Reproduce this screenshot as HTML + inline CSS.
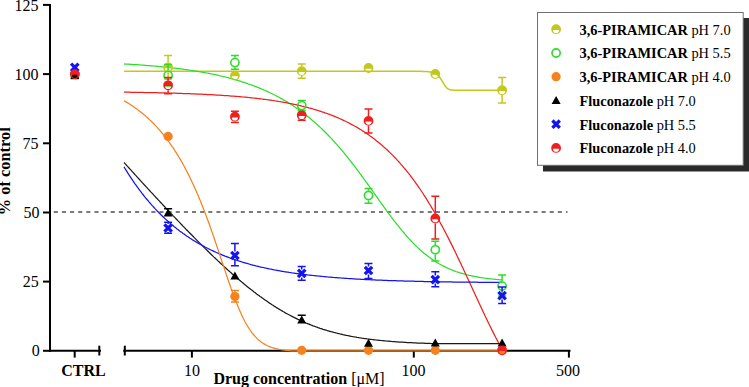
<!DOCTYPE html>
<html><head><meta charset="utf-8"><style>
html,body{margin:0;padding:0;background:#fff;}
body{width:749px;height:387px;overflow:hidden;}
svg{display:block;}
</style></head><body>
<svg width="749" height="387" viewBox="0 0 749 387">
<line x1="53.8" y1="212" x2="567.5" y2="212" stroke="#7a7a7a" stroke-width="2" stroke-dasharray="4.05 4.08"/>
<g stroke="#000" stroke-width="2" fill="none">
<line x1="50" y1="4" x2="50" y2="351.8"/>
<line x1="43" y1="350.8" x2="50" y2="350.8"/>
<line x1="43" y1="281.6" x2="50" y2="281.6"/>
<line x1="43" y1="212.5" x2="50" y2="212.5"/>
<line x1="43" y1="143.3" x2="50" y2="143.3"/>
<line x1="43" y1="74.1" x2="50" y2="74.1"/>
<line x1="43" y1="4.9" x2="50" y2="4.9"/>
<line x1="49" y1="350.8" x2="101" y2="350.8"/>
<line x1="74.7" y1="350.8" x2="74.7" y2="357.6"/>
<line x1="99.3" y1="345.7" x2="99.3" y2="355.5"/>
<line x1="123.2" y1="350.8" x2="570.5" y2="350.8"/>
<line x1="124.8" y1="345.7" x2="124.8" y2="355.5"/>
<line x1="191.9" y1="350.8" x2="191.9" y2="357.6"/>
<line x1="413.8" y1="350.8" x2="413.8" y2="357.6"/>
<line x1="568.9" y1="350.8" x2="568.9" y2="357.6"/>
</g>
<path d="M124.0,71.3 L125.0,71.3 L126.0,71.3 L127.0,71.3 L128.0,71.3 L129.0,71.3 L130.0,71.3 L131.0,71.3 L132.0,71.3 L133.0,71.3 L134.0,71.3 L135.0,71.3 L136.0,71.3 L137.0,71.3 L138.0,71.3 L139.0,71.3 L140.0,71.3 L141.0,71.3 L142.0,71.3 L143.0,71.3 L144.0,71.3 L145.0,71.3 L146.0,71.3 L147.0,71.3 L148.0,71.3 L149.0,71.3 L150.0,71.3 L151.0,71.3 L152.0,71.3 L153.0,71.3 L154.0,71.3 L155.0,71.3 L156.0,71.3 L157.0,71.3 L158.0,71.3 L159.0,71.3 L160.0,71.3 L161.0,71.3 L162.0,71.3 L163.0,71.3 L164.0,71.3 L165.0,71.3 L166.0,71.3 L167.0,71.3 L168.0,71.3 L169.0,71.3 L170.0,71.3 L171.0,71.3 L172.0,71.3 L173.0,71.3 L174.0,71.3 L175.0,71.3 L176.0,71.3 L177.0,71.3 L178.0,71.3 L179.0,71.3 L180.0,71.3 L181.0,71.3 L182.0,71.3 L183.0,71.3 L184.0,71.3 L185.0,71.3 L186.0,71.3 L187.0,71.3 L188.0,71.3 L189.0,71.3 L190.0,71.3 L191.0,71.3 L192.0,71.3 L193.0,71.3 L194.0,71.3 L195.0,71.3 L196.0,71.3 L197.0,71.3 L198.0,71.3 L199.0,71.3 L200.0,71.3 L201.0,71.3 L202.0,71.3 L203.0,71.3 L204.0,71.3 L205.0,71.3 L206.0,71.3 L207.0,71.3 L208.0,71.3 L209.0,71.3 L210.0,71.3 L211.0,71.3 L212.0,71.3 L213.0,71.3 L214.0,71.3 L215.0,71.3 L216.0,71.3 L217.0,71.3 L218.0,71.3 L219.0,71.3 L220.0,71.3 L221.0,71.3 L222.0,71.3 L223.0,71.3 L224.0,71.3 L225.0,71.3 L226.0,71.3 L227.0,71.3 L228.0,71.3 L229.0,71.3 L230.0,71.3 L231.0,71.3 L232.0,71.3 L233.0,71.3 L234.0,71.3 L235.0,71.3 L236.0,71.3 L237.0,71.3 L238.0,71.3 L239.0,71.3 L240.0,71.3 L241.0,71.3 L242.0,71.3 L243.0,71.3 L244.0,71.3 L245.0,71.3 L246.0,71.3 L247.0,71.3 L248.0,71.3 L249.0,71.3 L250.0,71.3 L251.0,71.3 L252.0,71.3 L253.0,71.3 L254.0,71.3 L255.0,71.3 L256.0,71.3 L257.0,71.3 L258.0,71.3 L259.0,71.3 L260.0,71.3 L261.0,71.3 L262.0,71.3 L263.0,71.3 L264.0,71.3 L265.0,71.3 L266.0,71.3 L267.0,71.3 L268.0,71.3 L269.0,71.3 L270.0,71.3 L271.0,71.3 L272.0,71.3 L273.0,71.3 L274.0,71.3 L275.0,71.3 L276.0,71.3 L277.0,71.3 L278.0,71.3 L279.0,71.3 L280.0,71.3 L281.0,71.3 L282.0,71.3 L283.0,71.3 L284.0,71.3 L285.0,71.3 L286.0,71.3 L287.0,71.3 L288.0,71.3 L289.0,71.3 L290.0,71.3 L291.0,71.3 L292.0,71.3 L293.0,71.3 L294.0,71.3 L295.0,71.3 L296.0,71.3 L297.0,71.3 L298.0,71.3 L299.0,71.3 L300.0,71.3 L301.0,71.3 L302.0,71.3 L303.0,71.3 L304.0,71.3 L305.0,71.3 L306.0,71.3 L307.0,71.3 L308.0,71.3 L309.0,71.3 L310.0,71.3 L311.0,71.3 L312.0,71.3 L313.0,71.3 L314.0,71.3 L315.0,71.3 L316.0,71.3 L317.0,71.3 L318.0,71.3 L319.0,71.3 L320.0,71.3 L321.0,71.3 L322.0,71.3 L323.0,71.3 L324.0,71.3 L325.0,71.3 L326.0,71.3 L327.0,71.3 L328.0,71.3 L329.0,71.3 L330.0,71.3 L331.0,71.3 L332.0,71.3 L333.0,71.3 L334.0,71.3 L335.0,71.3 L336.0,71.3 L337.0,71.3 L338.0,71.3 L339.0,71.3 L340.0,71.3 L341.0,71.3 L342.0,71.3 L343.0,71.3 L344.0,71.3 L345.0,71.3 L346.0,71.3 L347.0,71.3 L348.0,71.3 L349.0,71.3 L350.0,71.3 L351.0,71.3 L352.0,71.3 L353.0,71.3 L354.0,71.3 L355.0,71.3 L356.0,71.3 L357.0,71.3 L358.0,71.3 L359.0,71.3 L360.0,71.3 L361.0,71.3 L362.0,71.3 L363.0,71.3 L364.0,71.3 L365.0,71.3 L366.0,71.3 L367.0,71.3 L368.0,71.3 L369.0,71.3 L370.0,71.3 L371.0,71.3 L372.0,71.3 L373.0,71.3 L374.0,71.3 L375.0,71.3 L376.0,71.3 L377.0,71.3 L378.0,71.3 L379.0,71.3 L380.0,71.3 L381.0,71.3 L382.0,71.3 L383.0,71.3 L384.0,71.3 L385.0,71.3 L386.0,71.3 L387.0,71.3 L388.0,71.3 L389.0,71.3 L390.0,71.3 L391.0,71.3 L392.0,71.3 L393.0,71.3 L394.0,71.3 L395.0,71.3 L396.0,71.3 L397.0,71.3 L398.0,71.3 L399.0,71.3 L400.0,71.3 L401.0,71.3 L402.0,71.3 L403.0,71.3 L404.0,71.3 L405.0,71.3 L406.0,71.3 L407.0,71.3 L408.0,71.3 L409.0,71.3 L410.0,71.3 L411.0,71.3 L412.0,71.3 L413.0,71.3 L414.0,71.3 L415.0,71.3 L416.0,71.3 L417.0,71.3 L418.0,71.3 L419.0,71.3 L420.0,71.3 L421.0,71.3 L422.0,71.4 L423.0,71.4 L424.0,71.4 L425.0,71.5 L426.0,71.5 L427.0,71.6 L428.0,71.7 L429.0,71.8 L430.0,71.9 L431.0,72.1 L432.0,72.3 L433.0,72.6 L434.0,73.0 L435.0,73.4 L436.0,74.0 L437.0,74.7 L438.0,75.5 L439.0,76.5 L440.0,77.8 L441.0,79.2 L442.0,80.8 L443.0,82.5 L444.0,84.2 L445.0,85.8 L446.0,87.1 L447.0,88.1 L448.0,88.8 L449.0,89.3 L450.0,89.7 L451.0,89.9 L452.0,90.1 L453.0,90.1 L454.0,90.2 L455.0,90.2 L456.0,90.3 L457.0,90.3 L458.0,90.3 L459.0,90.3 L460.0,90.3 L461.0,90.3 L462.0,90.3 L463.0,90.3 L464.0,90.3 L465.0,90.3 L466.0,90.3 L467.0,90.3 L468.0,90.3 L469.0,90.3 L470.0,90.3 L471.0,90.3 L472.0,90.3 L473.0,90.3 L474.0,90.3 L475.0,90.3 L476.0,90.3 L477.0,90.3 L478.0,90.3 L479.0,90.3 L480.0,90.3 L481.0,90.3 L482.0,90.3 L483.0,90.3 L484.0,90.3 L485.0,90.3 L486.0,90.3 L487.0,90.3 L488.0,90.3 L489.0,90.3 L490.0,90.3 L491.0,90.3 L492.0,90.3 L493.0,90.3 L494.0,90.3 L495.0,90.3 L496.0,90.3 L497.0,90.3 L498.0,90.3 L499.0,90.3 L500.0,90.3 L501.0,90.3 L502.0,90.3" fill="none" stroke="#c3c81c" stroke-width="1.5"/>
<path d="M124.0,63.9 L125.0,64.0 L126.0,64.0 L127.0,64.1 L128.0,64.2 L129.0,64.2 L130.0,64.3 L131.0,64.3 L132.0,64.4 L133.0,64.5 L134.0,64.5 L135.0,64.6 L136.0,64.7 L137.0,64.7 L138.0,64.8 L139.0,64.9 L140.0,64.9 L141.0,65.0 L142.0,65.1 L143.0,65.1 L144.0,65.2 L145.0,65.3 L146.0,65.4 L147.0,65.5 L148.0,65.5 L149.0,65.6 L150.0,65.7 L151.0,65.8 L152.0,65.9 L153.0,65.9 L154.0,66.0 L155.0,66.1 L156.0,66.2 L157.0,66.3 L158.0,66.4 L159.0,66.5 L160.0,66.6 L161.0,66.7 L162.0,66.8 L163.0,66.9 L164.0,67.0 L165.0,67.1 L166.0,67.2 L167.0,67.3 L168.0,67.4 L169.0,67.5 L170.0,67.6 L171.0,67.7 L172.0,67.8 L173.0,68.0 L174.0,68.1 L175.0,68.2 L176.0,68.3 L177.0,68.4 L178.0,68.6 L179.0,68.7 L180.0,68.8 L181.0,68.9 L182.0,69.1 L183.0,69.2 L184.0,69.3 L185.0,69.5 L186.0,69.6 L187.0,69.7 L188.0,69.9 L189.0,70.0 L190.0,70.2 L191.0,70.3 L192.0,70.5 L193.0,70.6 L194.0,70.8 L195.0,71.0 L196.0,71.1 L197.0,71.3 L198.0,71.4 L199.0,71.6 L200.0,71.8 L201.0,72.0 L202.0,72.1 L203.0,72.3 L204.0,72.5 L205.0,72.7 L206.0,72.9 L207.0,73.0 L208.0,73.2 L209.0,73.4 L210.0,73.6 L211.0,73.8 L212.0,74.0 L213.0,74.2 L214.0,74.5 L215.0,74.7 L216.0,74.9 L217.0,75.1 L218.0,75.3 L219.0,75.5 L220.0,75.8 L221.0,76.0 L222.0,76.2 L223.0,76.5 L224.0,76.7 L225.0,77.0 L226.0,77.2 L227.0,77.5 L228.0,77.7 L229.0,78.0 L230.0,78.3 L231.0,78.5 L232.0,78.8 L233.0,79.1 L234.0,79.4 L235.0,79.6 L236.0,79.9 L237.0,80.2 L238.0,80.5 L239.0,80.8 L240.0,81.1 L241.0,81.4 L242.0,81.8 L243.0,82.1 L244.0,82.4 L245.0,82.7 L246.0,83.1 L247.0,83.4 L248.0,83.8 L249.0,84.1 L250.0,84.5 L251.0,84.8 L252.0,85.2 L253.0,85.6 L254.0,85.9 L255.0,86.3 L256.0,86.7 L257.0,87.1 L258.0,87.5 L259.0,87.9 L260.0,88.3 L261.0,88.7 L262.0,89.2 L263.0,89.6 L264.0,90.0 L265.0,90.5 L266.0,90.9 L267.0,91.4 L268.0,91.8 L269.0,92.3 L270.0,92.8 L271.0,93.2 L272.0,93.7 L273.0,94.2 L274.0,94.7 L275.0,95.2 L276.0,95.7 L277.0,96.3 L278.0,96.8 L279.0,97.3 L280.0,97.9 L281.0,98.4 L282.0,99.0 L283.0,99.6 L284.0,100.1 L285.0,100.7 L286.0,101.3 L287.0,101.9 L288.0,102.5 L289.0,103.2 L290.0,103.8 L291.0,104.4 L292.0,105.1 L293.0,105.7 L294.0,106.4 L295.0,107.1 L296.0,107.7 L297.0,108.4 L298.0,109.1 L299.0,109.9 L300.0,110.6 L301.0,111.3 L302.0,112.0 L303.0,112.8 L304.0,113.5 L305.0,114.3 L306.0,115.1 L307.0,115.9 L308.0,116.7 L309.0,117.5 L310.0,118.3 L311.0,119.2 L312.0,120.0 L313.0,120.9 L314.0,121.7 L315.0,122.6 L316.0,123.5 L317.0,124.4 L318.0,125.3 L319.0,126.2 L320.0,127.1 L321.0,128.1 L322.0,129.0 L323.0,130.0 L324.0,131.0 L325.0,132.0 L326.0,133.0 L327.0,134.0 L328.0,135.0 L329.0,136.0 L330.0,137.1 L331.0,138.1 L332.0,139.2 L333.0,140.3 L334.0,141.4 L335.0,142.5 L336.0,143.6 L337.0,144.7 L338.0,145.9 L339.0,147.0 L340.0,148.2 L341.0,149.4 L342.0,150.5 L343.0,151.7 L344.0,152.9 L345.0,154.2 L346.0,155.4 L347.0,156.6 L348.0,157.9 L349.0,159.1 L350.0,160.4 L351.0,161.7 L352.0,163.0 L353.0,164.3 L354.0,165.6 L355.0,166.9 L356.0,168.2 L357.0,169.5 L358.0,170.9 L359.0,172.2 L360.0,173.6 L361.0,174.9 L362.0,176.3 L363.0,177.7 L364.0,179.0 L365.0,180.4 L366.0,181.8 L367.0,183.2 L368.0,184.6 L369.0,186.0 L370.0,187.4 L371.0,188.8 L372.0,190.2 L373.0,191.6 L374.0,193.0 L375.0,194.4 L376.0,195.8 L377.0,197.2 L378.0,198.7 L379.0,200.1 L380.0,201.5 L381.0,202.9 L382.0,204.3 L383.0,205.7 L384.0,207.0 L385.0,208.4 L386.0,209.8 L387.0,211.2 L388.0,212.5 L389.0,213.9 L390.0,215.2 L391.0,216.6 L392.0,217.9 L393.0,219.2 L394.0,220.6 L395.0,221.9 L396.0,223.1 L397.0,224.4 L398.0,225.7 L399.0,226.9 L400.0,228.2 L401.0,229.4 L402.0,230.6 L403.0,231.8 L404.0,233.0 L405.0,234.2 L406.0,235.3 L407.0,236.5 L408.0,237.6 L409.0,238.7 L410.0,239.8 L411.0,240.8 L412.0,241.9 L413.0,242.9 L414.0,244.0 L415.0,245.0 L416.0,245.9 L417.0,246.9 L418.0,247.9 L419.0,248.8 L420.0,249.7 L421.0,250.6 L422.0,251.5 L423.0,252.3 L424.0,253.2 L425.0,254.0 L426.0,254.8 L427.0,255.6 L428.0,256.3 L429.0,257.1 L430.0,257.8 L431.0,258.5 L432.0,259.2 L433.0,259.9 L434.0,260.6 L435.0,261.2 L436.0,261.9 L437.0,262.5 L438.0,263.1 L439.0,263.7 L440.0,264.2 L441.0,264.8 L442.0,265.3 L443.0,265.9 L444.0,266.4 L445.0,266.9 L446.0,267.4 L447.0,267.8 L448.0,268.3 L449.0,268.7 L450.0,269.2 L451.0,269.6 L452.0,270.0 L453.0,270.4 L454.0,270.8 L455.0,271.1 L456.0,271.5 L457.0,271.8 L458.0,272.2 L459.0,272.5 L460.0,272.8 L461.0,273.1 L462.0,273.4 L463.0,273.7 L464.0,274.0 L465.0,274.3 L466.0,274.5 L467.0,274.8 L468.0,275.0 L469.0,275.3 L470.0,275.5 L471.0,275.7 L472.0,275.9 L473.0,276.1 L474.0,276.3 L475.0,276.5 L476.0,276.7 L477.0,276.9 L478.0,277.1 L479.0,277.3 L480.0,277.4 L481.0,277.6 L482.0,277.7 L483.0,277.9 L484.0,278.0 L485.0,278.2 L486.0,278.3 L487.0,278.4 L488.0,278.6 L489.0,278.7 L490.0,278.8 L491.0,278.9 L492.0,279.0 L493.0,279.1 L494.0,279.2 L495.0,279.3 L496.0,279.4 L497.0,279.5 L498.0,279.6 L499.0,279.7 L500.0,279.8 L501.0,279.8 L502.0,279.9" fill="none" stroke="#2ade2a" stroke-width="1.25"/>
<path d="M124.0,92.2 L125.0,92.2 L126.0,92.2 L127.0,92.2 L128.0,92.2 L129.0,92.2 L130.0,92.2 L131.0,92.3 L132.0,92.3 L133.0,92.3 L134.0,92.3 L135.0,92.3 L136.0,92.3 L137.0,92.3 L138.0,92.4 L139.0,92.4 L140.0,92.4 L141.0,92.4 L142.0,92.4 L143.0,92.4 L144.0,92.5 L145.0,92.5 L146.0,92.5 L147.0,92.5 L148.0,92.5 L149.0,92.6 L150.0,92.6 L151.0,92.6 L152.0,92.6 L153.0,92.6 L154.0,92.7 L155.0,92.7 L156.0,92.7 L157.0,92.7 L158.0,92.8 L159.0,92.8 L160.0,92.8 L161.0,92.8 L162.0,92.8 L163.0,92.9 L164.0,92.9 L165.0,92.9 L166.0,92.9 L167.0,93.0 L168.0,93.0 L169.0,93.0 L170.0,93.1 L171.0,93.1 L172.0,93.1 L173.0,93.1 L174.0,93.2 L175.0,93.2 L176.0,93.2 L177.0,93.3 L178.0,93.3 L179.0,93.3 L180.0,93.4 L181.0,93.4 L182.0,93.4 L183.0,93.5 L184.0,93.5 L185.0,93.5 L186.0,93.6 L187.0,93.6 L188.0,93.6 L189.0,93.7 L190.0,93.7 L191.0,93.8 L192.0,93.8 L193.0,93.8 L194.0,93.9 L195.0,93.9 L196.0,94.0 L197.0,94.0 L198.0,94.0 L199.0,94.1 L200.0,94.1 L201.0,94.2 L202.0,94.2 L203.0,94.3 L204.0,94.3 L205.0,94.4 L206.0,94.4 L207.0,94.5 L208.0,94.5 L209.0,94.6 L210.0,94.6 L211.0,94.7 L212.0,94.7 L213.0,94.8 L214.0,94.8 L215.0,94.9 L216.0,95.0 L217.0,95.0 L218.0,95.1 L219.0,95.1 L220.0,95.2 L221.0,95.3 L222.0,95.3 L223.0,95.4 L224.0,95.5 L225.0,95.5 L226.0,95.6 L227.0,95.7 L228.0,95.7 L229.0,95.8 L230.0,95.9 L231.0,96.0 L232.0,96.0 L233.0,96.1 L234.0,96.2 L235.0,96.3 L236.0,96.4 L237.0,96.4 L238.0,96.5 L239.0,96.6 L240.0,96.7 L241.0,96.8 L242.0,96.9 L243.0,97.0 L244.0,97.1 L245.0,97.2 L246.0,97.2 L247.0,97.3 L248.0,97.4 L249.0,97.5 L250.0,97.6 L251.0,97.8 L252.0,97.9 L253.0,98.0 L254.0,98.1 L255.0,98.2 L256.0,98.3 L257.0,98.4 L258.0,98.5 L259.0,98.6 L260.0,98.8 L261.0,98.9 L262.0,99.0 L263.0,99.1 L264.0,99.3 L265.0,99.4 L266.0,99.5 L267.0,99.7 L268.0,99.8 L269.0,99.9 L270.0,100.1 L271.0,100.2 L272.0,100.4 L273.0,100.5 L274.0,100.7 L275.0,100.8 L276.0,101.0 L277.0,101.1 L278.0,101.3 L279.0,101.5 L280.0,101.6 L281.0,101.8 L282.0,102.0 L283.0,102.1 L284.0,102.3 L285.0,102.5 L286.0,102.7 L287.0,102.9 L288.0,103.1 L289.0,103.3 L290.0,103.5 L291.0,103.7 L292.0,103.9 L293.0,104.1 L294.0,104.3 L295.0,104.5 L296.0,104.7 L297.0,104.9 L298.0,105.1 L299.0,105.4 L300.0,105.6 L301.0,105.8 L302.0,106.1 L303.0,106.3 L304.0,106.6 L305.0,106.8 L306.0,107.1 L307.0,107.3 L308.0,107.6 L309.0,107.9 L310.0,108.1 L311.0,108.4 L312.0,108.7 L313.0,109.0 L314.0,109.3 L315.0,109.6 L316.0,109.9 L317.0,110.2 L318.0,110.5 L319.0,110.8 L320.0,111.1 L321.0,111.4 L322.0,111.8 L323.0,112.1 L324.0,112.4 L325.0,112.8 L326.0,113.1 L327.0,113.5 L328.0,113.9 L329.0,114.2 L330.0,114.6 L331.0,115.0 L332.0,115.4 L333.0,115.8 L334.0,116.2 L335.0,116.6 L336.0,117.0 L337.0,117.4 L338.0,117.8 L339.0,118.3 L340.0,118.7 L341.0,119.2 L342.0,119.6 L343.0,120.1 L344.0,120.6 L345.0,121.0 L346.0,121.5 L347.0,122.0 L348.0,122.5 L349.0,123.0 L350.0,123.6 L351.0,124.1 L352.0,124.6 L353.0,125.2 L354.0,125.7 L355.0,126.3 L356.0,126.8 L357.0,127.4 L358.0,128.0 L359.0,128.6 L360.0,129.2 L361.0,129.8 L362.0,130.5 L363.0,131.1 L364.0,131.7 L365.0,132.4 L366.0,133.1 L367.0,133.8 L368.0,134.4 L369.0,135.1 L370.0,135.9 L371.0,136.6 L372.0,137.3 L373.0,138.1 L374.0,138.8 L375.0,139.6 L376.0,140.4 L377.0,141.2 L378.0,142.0 L379.0,142.8 L380.0,143.6 L381.0,144.5 L382.0,145.3 L383.0,146.2 L384.0,147.1 L385.0,148.0 L386.0,148.9 L387.0,149.8 L388.0,150.7 L389.0,151.7 L390.0,152.6 L391.0,153.6 L392.0,154.6 L393.0,155.6 L394.0,156.7 L395.0,157.7 L396.0,158.7 L397.0,159.8 L398.0,160.9 L399.0,162.0 L400.0,163.1 L401.0,164.3 L402.0,165.4 L403.0,166.6 L404.0,167.8 L405.0,169.0 L406.0,170.2 L407.0,171.4 L408.0,172.7 L409.0,173.9 L410.0,175.2 L411.0,176.5 L412.0,177.8 L413.0,179.2 L414.0,180.5 L415.0,181.9 L416.0,183.3 L417.0,184.7 L418.0,186.1 L419.0,187.6 L420.0,189.0 L421.0,190.5 L422.0,192.0 L423.0,193.5 L424.0,195.1 L425.0,196.6 L426.0,198.2 L427.0,199.8 L428.0,201.4 L429.0,203.1 L430.0,204.7 L431.0,206.4 L432.0,208.1 L433.0,209.8 L434.0,211.5 L435.0,213.2 L436.0,215.0 L437.0,216.8 L438.0,218.6 L439.0,220.4 L440.0,222.2 L441.0,224.1 L442.0,225.9 L443.0,227.8 L444.0,229.7 L445.0,231.6 L446.0,233.5 L447.0,235.5 L448.0,237.4 L449.0,239.4 L450.0,241.4 L451.0,243.4 L452.0,245.4 L453.0,247.4 L454.0,249.5 L455.0,251.5 L456.0,253.6 L457.0,255.7 L458.0,257.8 L459.0,259.9 L460.0,262.0 L461.0,264.1 L462.0,266.2 L463.0,268.3 L464.0,270.5 L465.0,272.6 L466.0,274.8 L467.0,276.9 L468.0,279.1 L469.0,281.2 L470.0,283.4 L471.0,285.6 L472.0,287.7 L473.0,289.9 L474.0,292.1 L475.0,294.2 L476.0,296.4 L477.0,298.6 L478.0,300.7 L479.0,302.9 L480.0,305.0 L481.0,307.2 L482.0,309.3 L483.0,311.4 L484.0,313.5 L485.0,315.7 L486.0,317.7 L487.0,319.8 L488.0,321.9 L489.0,324.0 L490.0,326.0 L491.0,328.1 L492.0,330.1 L493.0,332.1 L494.0,334.1 L495.0,336.0 L496.0,338.0 L497.0,339.9 L498.0,341.8 L499.0,343.7 L500.0,345.6 L501.0,347.4 L502.0,349.3" fill="none" stroke="#f01e1e" stroke-width="1.25"/>
<path d="M124.0,162.5 L125.0,163.6 L126.0,164.7 L127.0,165.8 L128.0,166.9 L129.0,168.0 L130.0,169.1 L131.0,170.2 L132.0,171.3 L133.0,172.4 L134.0,173.5 L135.0,174.6 L136.0,175.7 L137.0,176.8 L138.0,177.9 L139.0,179.0 L140.0,180.1 L141.0,181.2 L142.0,182.3 L143.0,183.4 L144.0,184.5 L145.0,185.5 L146.0,186.6 L147.0,187.7 L148.0,188.8 L149.0,189.9 L150.0,191.0 L151.0,192.1 L152.0,193.1 L153.0,194.2 L154.0,195.3 L155.0,196.4 L156.0,197.5 L157.0,198.5 L158.0,199.6 L159.0,200.7 L160.0,201.8 L161.0,202.8 L162.0,203.9 L163.0,205.0 L164.0,206.0 L165.0,207.1 L166.0,208.2 L167.0,209.2 L168.0,210.3 L169.0,211.4 L170.0,212.4 L171.0,213.5 L172.0,214.5 L173.0,215.6 L174.0,216.6 L175.0,217.7 L176.0,218.8 L177.0,219.8 L178.0,220.9 L179.0,221.9 L180.0,222.9 L181.0,224.0 L182.0,225.0 L183.0,226.1 L184.0,227.1 L185.0,228.1 L186.0,229.2 L187.0,230.2 L188.0,231.2 L189.0,232.3 L190.0,233.3 L191.0,234.3 L192.0,235.3 L193.0,236.3 L194.0,237.4 L195.0,238.4 L196.0,239.4 L197.0,240.4 L198.0,241.4 L199.0,242.4 L200.0,243.4 L201.0,244.4 L202.0,245.4 L203.0,246.4 L204.0,247.4 L205.0,248.4 L206.0,249.3 L207.0,250.3 L208.0,251.3 L209.0,252.3 L210.0,253.2 L211.0,254.2 L212.0,255.2 L213.0,256.1 L214.0,257.1 L215.0,258.0 L216.0,259.0 L217.0,259.9 L218.0,260.9 L219.0,261.8 L220.0,262.8 L221.0,263.7 L222.0,264.6 L223.0,265.5 L224.0,266.5 L225.0,267.4 L226.0,268.3 L227.0,269.2 L228.0,270.1 L229.0,271.0 L230.0,271.9 L231.0,272.8 L232.0,273.7 L233.0,274.6 L234.0,275.4 L235.0,276.3 L236.0,277.2 L237.0,278.0 L238.0,278.9 L239.0,279.7 L240.0,280.6 L241.0,281.4 L242.0,282.3 L243.0,283.1 L244.0,283.9 L245.0,284.7 L246.0,285.6 L247.0,286.4 L248.0,287.2 L249.0,288.0 L250.0,288.8 L251.0,289.6 L252.0,290.3 L253.0,291.1 L254.0,291.9 L255.0,292.6 L256.0,293.4 L257.0,294.2 L258.0,294.9 L259.0,295.6 L260.0,296.4 L261.0,297.1 L262.0,297.8 L263.0,298.5 L264.0,299.2 L265.0,299.9 L266.0,300.6 L267.0,301.3 L268.0,302.0 L269.0,302.7 L270.0,303.4 L271.0,304.0 L272.0,304.7 L273.0,305.3 L274.0,306.0 L275.0,306.6 L276.0,307.2 L277.0,307.9 L278.0,308.5 L279.0,309.1 L280.0,309.7 L281.0,310.3 L282.0,310.9 L283.0,311.5 L284.0,312.0 L285.0,312.6 L286.0,313.2 L287.0,313.7 L288.0,314.3 L289.0,314.8 L290.0,315.3 L291.0,315.9 L292.0,316.4 L293.0,316.9 L294.0,317.4 L295.0,317.9 L296.0,318.4 L297.0,318.9 L298.0,319.4 L299.0,319.8 L300.0,320.3 L301.0,320.8 L302.0,321.2 L303.0,321.7 L304.0,322.1 L305.0,322.5 L306.0,323.0 L307.0,323.4 L308.0,323.8 L309.0,324.2 L310.0,324.6 L311.0,325.0 L312.0,325.4 L313.0,325.8 L314.0,326.1 L315.0,326.5 L316.0,326.9 L317.0,327.2 L318.0,327.6 L319.0,327.9 L320.0,328.3 L321.0,328.6 L322.0,328.9 L323.0,329.3 L324.0,329.6 L325.0,329.9 L326.0,330.2 L327.0,330.5 L328.0,330.8 L329.0,331.1 L330.0,331.4 L331.0,331.7 L332.0,331.9 L333.0,332.2 L334.0,332.5 L335.0,332.7 L336.0,333.0 L337.0,333.2 L338.0,333.5 L339.0,333.7 L340.0,334.0 L341.0,334.2 L342.0,334.4 L343.0,334.7 L344.0,334.9 L345.0,335.1 L346.0,335.3 L347.0,335.5 L348.0,335.7 L349.0,335.9 L350.0,336.1 L351.0,336.3 L352.0,336.5 L353.0,336.7 L354.0,336.8 L355.0,337.0 L356.0,337.2 L357.0,337.4 L358.0,337.5 L359.0,337.7 L360.0,337.8 L361.0,338.0 L362.0,338.2 L363.0,338.3 L364.0,338.5 L365.0,338.6 L366.0,338.7 L367.0,338.9 L368.0,339.0 L369.0,339.1 L370.0,339.3 L371.0,339.4 L372.0,339.5 L373.0,339.6 L374.0,339.8 L375.0,339.9 L376.0,340.0 L377.0,340.1 L378.0,340.2 L379.0,340.3 L380.0,340.4 L381.0,340.5 L382.0,340.6 L383.0,340.7 L384.0,340.8 L385.0,340.9 L386.0,341.0 L387.0,341.1 L388.0,341.2 L389.0,341.2 L390.0,341.3 L391.0,341.4 L392.0,341.5 L393.0,341.6 L394.0,341.6 L395.0,341.7 L396.0,341.8 L397.0,341.8 L398.0,341.9 L399.0,342.0 L400.0,342.0 L401.0,342.1 L402.0,342.2 L403.0,342.2 L404.0,342.3 L405.0,342.4 L406.0,342.4 L407.0,342.5 L408.0,342.5 L409.0,342.6 L410.0,342.6 L411.0,342.7 L412.0,342.7 L413.0,342.8 L414.0,342.8 L415.0,342.9 L416.0,342.9 L417.0,343.0 L418.0,343.0 L419.0,343.0 L420.0,343.1 L421.0,343.1 L422.0,343.2 L423.0,343.2 L424.0,343.2 L425.0,343.3 L426.0,343.3 L427.0,343.3 L428.0,343.4 L429.0,343.4 L430.0,343.4 L431.0,343.5 L432.0,343.5 L433.0,343.5 L434.0,343.5 L435.0,343.5 L436.0,343.5 L437.0,343.5 L438.0,343.5 L439.0,343.5 L440.0,343.5 L441.0,343.5 L442.0,343.5 L443.0,343.5 L444.0,343.5 L445.0,343.5 L446.0,343.5 L447.0,343.5 L448.0,343.5 L449.0,343.5 L450.0,343.5 L451.0,343.5 L452.0,343.5 L453.0,343.5 L454.0,343.5 L455.0,343.5 L456.0,343.5 L457.0,343.5 L458.0,343.5 L459.0,343.5 L460.0,343.5 L461.0,343.5 L462.0,343.5 L463.0,343.5 L464.0,343.5 L465.0,343.5 L466.0,343.5 L467.0,343.5 L468.0,343.5 L469.0,343.5 L470.0,343.5 L471.0,343.5 L472.0,343.5 L473.0,343.5 L474.0,343.5 L475.0,343.5 L476.0,343.5 L477.0,343.5 L478.0,343.5 L479.0,343.5 L480.0,343.5 L481.0,343.5 L482.0,343.5 L483.0,343.5 L484.0,343.5 L485.0,343.5 L486.0,343.5 L487.0,343.5 L488.0,343.5 L489.0,343.5 L490.0,343.5 L491.0,343.5 L492.0,343.5 L493.0,343.5 L494.0,343.5 L495.0,343.5 L496.0,343.5 L497.0,343.5 L498.0,343.5 L499.0,343.5 L500.0,343.5 L501.0,343.5 L502.0,343.5" fill="none" stroke="#1a1a1a" stroke-width="1.25"/>
<path d="M124.0,166.9 L125.0,168.5 L126.0,170.1 L127.0,171.7 L128.0,173.3 L129.0,174.9 L130.0,176.4 L131.0,177.9 L132.0,179.4 L133.0,180.9 L134.0,182.3 L135.0,183.8 L136.0,185.2 L137.0,186.6 L138.0,188.0 L139.0,189.3 L140.0,190.6 L141.0,192.0 L142.0,193.3 L143.0,194.5 L144.0,195.8 L145.0,197.1 L146.0,198.3 L147.0,199.5 L148.0,200.7 L149.0,201.9 L150.0,203.0 L151.0,204.2 L152.0,205.3 L153.0,206.4 L154.0,207.5 L155.0,208.6 L156.0,209.6 L157.0,210.7 L158.0,211.7 L159.0,212.8 L160.0,213.8 L161.0,214.8 L162.0,215.7 L163.0,216.7 L164.0,217.7 L165.0,218.6 L166.0,219.5 L167.0,220.4 L168.0,221.3 L169.0,222.2 L170.0,223.1 L171.0,223.9 L172.0,224.8 L173.0,225.6 L174.0,226.5 L175.0,227.3 L176.0,228.1 L177.0,228.9 L178.0,229.6 L179.0,230.4 L180.0,231.2 L181.0,231.9 L182.0,232.6 L183.0,233.4 L184.0,234.1 L185.0,234.8 L186.0,235.5 L187.0,236.2 L188.0,236.8 L189.0,237.5 L190.0,238.2 L191.0,238.8 L192.0,239.5 L193.0,240.1 L194.0,240.7 L195.0,241.3 L196.0,241.9 L197.0,242.5 L198.0,243.1 L199.0,243.7 L200.0,244.2 L201.0,244.8 L202.0,245.3 L203.0,245.9 L204.0,246.4 L205.0,247.0 L206.0,247.5 L207.0,248.0 L208.0,248.5 L209.0,249.0 L210.0,249.5 L211.0,250.0 L212.0,250.4 L213.0,250.9 L214.0,251.4 L215.0,251.8 L216.0,252.3 L217.0,252.7 L218.0,253.2 L219.0,253.6 L220.0,254.0 L221.0,254.4 L222.0,254.9 L223.0,255.3 L224.0,255.7 L225.0,256.1 L226.0,256.4 L227.0,256.8 L228.0,257.2 L229.0,257.6 L230.0,258.0 L231.0,258.3 L232.0,258.7 L233.0,259.0 L234.0,259.4 L235.0,259.7 L236.0,260.0 L237.0,260.4 L238.0,260.7 L239.0,261.0 L240.0,261.3 L241.0,261.7 L242.0,262.0 L243.0,262.3 L244.0,262.6 L245.0,262.9 L246.0,263.2 L247.0,263.4 L248.0,263.7 L249.0,264.0 L250.0,264.3 L251.0,264.6 L252.0,264.8 L253.0,265.1 L254.0,265.3 L255.0,265.6 L256.0,265.9 L257.0,266.1 L258.0,266.3 L259.0,266.6 L260.0,266.8 L261.0,267.1 L262.0,267.3 L263.0,267.5 L264.0,267.7 L265.0,268.0 L266.0,268.2 L267.0,268.4 L268.0,268.6 L269.0,268.8 L270.0,269.0 L271.0,269.2 L272.0,269.4 L273.0,269.6 L274.0,269.8 L275.0,270.0 L276.0,270.2 L277.0,270.4 L278.0,270.6 L279.0,270.7 L280.0,270.9 L281.0,271.1 L282.0,271.3 L283.0,271.4 L284.0,271.6 L285.0,271.8 L286.0,271.9 L287.0,272.1 L288.0,272.2 L289.0,272.4 L290.0,272.5 L291.0,272.7 L292.0,272.8 L293.0,273.0 L294.0,273.1 L295.0,273.3 L296.0,273.4 L297.0,273.6 L298.0,273.7 L299.0,273.8 L300.0,274.0 L301.0,274.1 L302.0,274.2 L303.0,274.3 L304.0,274.5 L305.0,274.6 L306.0,274.7 L307.0,274.8 L308.0,275.0 L309.0,275.1 L310.0,275.2 L311.0,275.3 L312.0,275.4 L313.0,275.5 L314.0,275.6 L315.0,275.7 L316.0,275.8 L317.0,275.9 L318.0,276.0 L319.0,276.1 L320.0,276.2 L321.0,276.3 L322.0,276.4 L323.0,276.5 L324.0,276.6 L325.0,276.7 L326.0,276.8 L327.0,276.9 L328.0,277.0 L329.0,277.1 L330.0,277.2 L331.0,277.2 L332.0,277.3 L333.0,277.4 L334.0,277.5 L335.0,277.6 L336.0,277.6 L337.0,277.7 L338.0,277.8 L339.0,277.9 L340.0,277.9 L341.0,278.0 L342.0,278.1 L343.0,278.2 L344.0,278.2 L345.0,278.3 L346.0,278.4 L347.0,278.4 L348.0,278.5 L349.0,278.6 L350.0,278.6 L351.0,278.7 L352.0,278.7 L353.0,278.8 L354.0,278.9 L355.0,278.9 L356.0,279.0 L357.0,279.0 L358.0,279.1 L359.0,279.1 L360.0,279.2 L361.0,279.3 L362.0,279.3 L363.0,279.4 L364.0,279.4 L365.0,279.5 L366.0,279.5 L367.0,279.6 L368.0,279.6 L369.0,279.7 L370.0,279.7 L371.0,279.8 L372.0,279.8 L373.0,279.8 L374.0,279.9 L375.0,279.9 L376.0,280.0 L377.0,280.0 L378.0,280.1 L379.0,280.1 L380.0,280.1 L381.0,280.2 L382.0,280.2 L383.0,280.3 L384.0,280.3 L385.0,280.3 L386.0,280.4 L387.0,280.4 L388.0,280.5 L389.0,280.5 L390.0,280.5 L391.0,280.6 L392.0,280.6 L393.0,280.6 L394.0,280.7 L395.0,280.7 L396.0,280.7 L397.0,280.8 L398.0,280.8 L399.0,280.8 L400.0,280.8 L401.0,280.9 L402.0,280.9 L403.0,280.9 L404.0,281.0 L405.0,281.0 L406.0,281.0 L407.0,281.0 L408.0,281.1 L409.0,281.1 L410.0,281.1 L411.0,281.2 L412.0,281.2 L413.0,281.2 L414.0,281.2 L415.0,281.3 L416.0,281.3 L417.0,281.3 L418.0,281.3 L419.0,281.3 L420.0,281.4 L421.0,281.4 L422.0,281.4 L423.0,281.4 L424.0,281.5 L425.0,281.5 L426.0,281.5 L427.0,281.5 L428.0,281.5 L429.0,281.6 L430.0,281.6 L431.0,281.6 L432.0,281.6 L433.0,281.6 L434.0,281.7 L435.0,281.7 L436.0,281.7 L437.0,281.7 L438.0,281.7 L439.0,281.7 L440.0,281.8 L441.0,281.8 L442.0,281.8 L443.0,281.8 L444.0,281.8 L445.0,281.8 L446.0,281.9 L447.0,281.9 L448.0,281.9 L449.0,281.9 L450.0,281.9 L451.0,281.9 L452.0,281.9 L453.0,282.0 L454.0,282.0 L455.0,282.0 L456.0,282.0 L457.0,282.0 L458.0,282.0 L459.0,282.0 L460.0,282.1 L461.0,282.1 L462.0,282.1 L463.0,282.1 L464.0,282.1 L465.0,282.1 L466.0,282.1 L467.0,282.1 L468.0,282.1 L469.0,282.2 L470.0,282.2 L471.0,282.2 L472.0,282.2 L473.0,282.2 L474.0,282.2 L475.0,282.2 L476.0,282.2 L477.0,282.2 L478.0,282.3 L479.0,282.3 L480.0,282.3 L481.0,282.3 L482.0,282.3 L483.0,282.3 L484.0,282.3 L485.0,282.3 L486.0,282.3 L487.0,282.3 L488.0,282.3 L489.0,282.3 L490.0,282.4 L491.0,282.4 L492.0,282.4 L493.0,282.4 L494.0,282.4 L495.0,282.4 L496.0,282.4 L497.0,282.4 L498.0,282.4 L499.0,282.4 L500.0,282.4 L501.0,282.4 L502.0,282.4" fill="none" stroke="#1414f0" stroke-width="1.25"/>
<path d="M124.0,100.7 L125.0,101.3 L126.0,101.9 L127.0,102.5 L128.0,103.1 L129.0,103.7 L130.0,104.3 L131.0,105.0 L132.0,105.6 L133.0,106.3 L134.0,107.0 L135.0,107.7 L136.0,108.4 L137.0,109.1 L138.0,109.9 L139.0,110.7 L140.0,111.4 L141.0,112.2 L142.0,113.0 L143.0,113.8 L144.0,114.7 L145.0,115.5 L146.0,116.4 L147.0,117.3 L148.0,118.2 L149.0,119.1 L150.0,120.1 L151.0,121.0 L152.0,122.0 L153.0,123.0 L154.0,124.0 L155.0,125.1 L156.0,126.1 L157.0,127.2 L158.0,128.3 L159.0,129.4 L160.0,130.6 L161.0,131.8 L162.0,133.0 L163.0,134.2 L164.0,135.4 L165.0,136.7 L166.0,138.0 L167.0,139.3 L168.0,140.6 L169.0,142.0 L170.0,143.4 L171.0,144.8 L172.0,146.3 L173.0,147.7 L174.0,149.2 L175.0,150.8 L176.0,152.3 L177.0,153.9 L178.0,155.6 L179.0,157.2 L180.0,158.9 L181.0,160.6 L182.0,162.4 L183.0,164.2 L184.0,166.0 L185.0,167.9 L186.0,169.7 L187.0,171.7 L188.0,173.6 L189.0,175.6 L190.0,177.7 L191.0,179.7 L192.0,181.9 L193.0,184.0 L194.0,186.2 L195.0,188.4 L196.0,190.7 L197.0,193.0 L198.0,195.3 L199.0,197.7 L200.0,200.1 L201.0,202.6 L202.0,205.1 L203.0,207.6 L204.0,210.2 L205.0,212.8 L206.0,215.4 L207.0,218.1 L208.0,220.8 L209.0,223.5 L210.0,226.3 L211.0,229.1 L212.0,232.0 L213.0,234.9 L214.0,237.8 L215.0,240.7 L216.0,243.6 L217.0,246.6 L218.0,249.6 L219.0,252.6 L220.0,255.6 L221.0,258.6 L222.0,261.6 L223.0,264.6 L224.0,267.6 L225.0,270.6 L226.0,273.6 L227.0,276.5 L228.0,279.5 L229.0,282.4 L230.0,285.3 L231.0,288.1 L232.0,290.9 L233.0,293.7 L234.0,296.4 L235.0,299.0 L236.0,301.6 L237.0,304.1 L238.0,306.6 L239.0,309.0 L240.0,311.3 L241.0,313.5 L242.0,315.7 L243.0,317.8 L244.0,319.7 L245.0,321.7 L246.0,323.5 L247.0,325.2 L248.0,326.9 L249.0,328.5 L250.0,330.0 L251.0,331.4 L252.0,332.8 L253.0,334.0 L254.0,335.2 L255.0,336.4 L256.0,337.4 L257.0,338.4 L258.0,339.4 L259.0,340.3 L260.0,341.1 L261.0,341.9 L262.0,342.6 L263.0,343.2 L264.0,343.9 L265.0,344.4 L266.0,345.0 L267.0,345.5 L268.0,346.0 L269.0,346.4 L270.0,346.8 L271.0,347.2 L272.0,347.5 L273.0,347.8 L274.0,348.1 L275.0,348.4 L276.0,348.7 L277.0,348.9 L278.0,349.1 L279.0,349.3 L280.0,349.5 L281.0,349.7 L282.0,349.8 L283.0,350.0 L284.0,350.1 L285.0,350.2 L286.0,350.3 L287.0,350.4 L288.0,350.5 L289.0,350.6 L290.0,350.7 L291.0,350.8 L292.0,350.8 L293.0,350.8 L294.0,350.8 L295.0,350.8 L296.0,350.8 L297.0,350.8 L298.0,350.8 L299.0,350.8 L300.0,350.8 L301.0,350.8 L302.0,350.8 L303.0,350.8 L304.0,350.8 L305.0,350.8 L306.0,350.8 L307.0,350.8 L308.0,350.8 L309.0,350.8 L310.0,350.8 L311.0,350.8 L312.0,350.8 L313.0,350.8 L314.0,350.8 L315.0,350.8 L316.0,350.8 L317.0,350.8 L318.0,350.8 L319.0,350.8 L320.0,350.8 L321.0,350.8 L322.0,350.8 L323.0,350.8 L324.0,350.8 L325.0,350.8 L326.0,350.8 L327.0,350.8 L328.0,350.8 L329.0,350.8 L330.0,350.8 L331.0,350.8 L332.0,350.8 L333.0,350.8 L334.0,350.8 L335.0,350.8 L336.0,350.8 L337.0,350.8 L338.0,350.8 L339.0,350.8 L340.0,350.8 L341.0,350.8 L342.0,350.8 L343.0,350.8 L344.0,350.8 L345.0,350.8 L346.0,350.8 L347.0,350.8 L348.0,350.8 L349.0,350.8 L350.0,350.8 L351.0,350.8 L352.0,350.8 L353.0,350.8 L354.0,350.8 L355.0,350.8 L356.0,350.8 L357.0,350.8 L358.0,350.8 L359.0,350.8 L360.0,350.8 L361.0,350.8 L362.0,350.8 L363.0,350.8 L364.0,350.8 L365.0,350.8 L366.0,350.8 L367.0,350.8 L368.0,350.8 L369.0,350.8 L370.0,350.8 L371.0,350.8 L372.0,350.8 L373.0,350.8 L374.0,350.8 L375.0,350.8 L376.0,350.8 L377.0,350.8 L378.0,350.8 L379.0,350.8 L380.0,350.8 L381.0,350.8 L382.0,350.8 L383.0,350.8 L384.0,350.8 L385.0,350.8 L386.0,350.8 L387.0,350.8 L388.0,350.8 L389.0,350.8 L390.0,350.8 L391.0,350.8 L392.0,350.8 L393.0,350.8 L394.0,350.8 L395.0,350.8 L396.0,350.8 L397.0,350.8 L398.0,350.8 L399.0,350.8 L400.0,350.8 L401.0,350.8 L402.0,350.8 L403.0,350.8 L404.0,350.8 L405.0,350.8 L406.0,350.8 L407.0,350.8 L408.0,350.8 L409.0,350.8 L410.0,350.8 L411.0,350.8 L412.0,350.8 L413.0,350.8 L414.0,350.8 L415.0,350.8 L416.0,350.8 L417.0,350.8 L418.0,350.8 L419.0,350.8 L420.0,350.8 L421.0,350.8 L422.0,350.8 L423.0,350.8 L424.0,350.8 L425.0,350.8 L426.0,350.8 L427.0,350.8 L428.0,350.8 L429.0,350.8 L430.0,350.8 L431.0,350.8 L432.0,350.8 L433.0,350.8 L434.0,350.8 L435.0,350.8 L436.0,350.8 L437.0,350.8 L438.0,350.8 L439.0,350.8 L440.0,350.8 L441.0,350.8 L442.0,350.8 L443.0,350.8 L444.0,350.8 L445.0,350.8 L446.0,350.8 L447.0,350.8 L448.0,350.8 L449.0,350.8 L450.0,350.8 L451.0,350.8 L452.0,350.8 L453.0,350.8 L454.0,350.8 L455.0,350.8 L456.0,350.8 L457.0,350.8 L458.0,350.8 L459.0,350.8 L460.0,350.8 L461.0,350.8 L462.0,350.8 L463.0,350.8 L464.0,350.8 L465.0,350.8 L466.0,350.8 L467.0,350.8 L468.0,350.8 L469.0,350.8 L470.0,350.8 L471.0,350.8 L472.0,350.8 L473.0,350.8 L474.0,350.8 L475.0,350.8 L476.0,350.8 L477.0,350.8 L478.0,350.8 L479.0,350.8 L480.0,350.8 L481.0,350.8 L482.0,350.8 L483.0,350.8 L484.0,350.8 L485.0,350.8 L486.0,350.8 L487.0,350.8 L488.0,350.8 L489.0,350.8 L490.0,350.8 L491.0,350.8 L492.0,350.8 L493.0,350.8 L494.0,350.8 L495.0,350.8 L496.0,350.8 L497.0,350.8 L498.0,350.8 L499.0,350.8 L500.0,350.8 L501.0,350.8 L502.0,350.8" fill="none" stroke="#f5821e" stroke-width="1.25"/>
<g font-family="Liberation Serif" font-size="16" text-anchor="end" fill="#000">
<text x="39.8" y="356.4">0</text>
<text x="38.8" y="287.2">25</text>
<text x="39.5" y="218.1">50</text>
<text x="38.6" y="148.9">75</text>
<text x="38.6" y="79.7">100</text>
<text x="38.6" y="10.5">125</text>
</g>
<g font-family="Liberation Serif" font-size="16" text-anchor="middle" fill="#000">
<text x="191.9" y="375.9">10</text>
<text x="413.4" y="375.9">100</text>
<text x="567.9" y="375.9">500</text>
<text x="83.4" y="375.7" font-weight="bold">CTRL</text>
</g>
<text x="213.4" y="383.8" font-family="Liberation Serif" font-size="16" fill="#000"><tspan font-weight="bold">Drug concentration</tspan> [&#956;M]</text>
<text transform="translate(10.4,171.3) rotate(-90)" font-family="Liberation Serif" font-size="16.4" font-weight="bold" text-anchor="middle" fill="#000">% of control</text>
<path d="M168.1,55.6 V62.6 M164.1,55.6 H172.1 M168.1,72.4 V79.0 M164.1,79.0 H172.1 " stroke="#c3c81c" stroke-width="1.5" fill="none"/>
<path fill-rule="evenodd" fill="#c3c81c" d="M163.21,67.50 A4.9,4.9 0 1 1 173.01,67.50 A4.9,4.9 0 1 1 163.21,67.50 Z M165.01,68.20 L171.21,68.20 A3.1,3.1 0 0 1 165.01,68.20 Z"/>

<path fill-rule="evenodd" fill="#c3c81c" d="M230.01,75.60 A4.9,4.9 0 1 1 239.81,75.60 A4.9,4.9 0 1 1 230.01,75.60 Z M231.81,76.30 L238.01,76.30 A3.1,3.1 0 0 1 231.81,76.30 Z"/>
<path d="M301.7,64.1 V66.2 M297.7,64.1 H305.7 M301.7,76.0 V78.3 M297.7,78.3 H305.7 " stroke="#c3c81c" stroke-width="1.5" fill="none"/>
<path fill-rule="evenodd" fill="#c3c81c" d="M296.81,71.10 A4.9,4.9 0 1 1 306.61,71.10 A4.9,4.9 0 1 1 296.81,71.10 Z M298.61,71.80 L304.81,71.80 A3.1,3.1 0 0 1 298.61,71.80 Z"/>

<path fill-rule="evenodd" fill="#c3c81c" d="M363.61,68.00 A4.9,4.9 0 1 1 373.41,68.00 A4.9,4.9 0 1 1 363.61,68.00 Z M365.41,68.70 L371.61,68.70 A3.1,3.1 0 0 1 365.41,68.70 Z"/>

<path fill-rule="evenodd" fill="#c3c81c" d="M430.40,74.00 A4.9,4.9 0 1 1 440.20,74.00 A4.9,4.9 0 1 1 430.40,74.00 Z M432.20,74.70 L438.40,74.70 A3.1,3.1 0 0 1 432.20,74.70 Z"/>
<path d="M502.1,77.6 V85.3 M498.1,77.6 H506.1 M502.1,95.1 V102.9 M498.1,102.9 H506.1 " stroke="#c3c81c" stroke-width="1.5" fill="none"/>
<path fill-rule="evenodd" fill="#c3c81c" d="M497.20,90.20 A4.9,4.9 0 1 1 507.00,90.20 A4.9,4.9 0 1 1 497.20,90.20 Z M499.00,90.90 L505.20,90.90 A3.1,3.1 0 0 1 499.00,90.90 Z"/>
<path d="M168.1,64.5 V70.5 M164.1,64.5 H172.1 M168.1,80.3 V86.0 M164.1,86.0 H172.1 " stroke="#2ade2a" stroke-width="1.5" fill="none"/>
<circle cx="168.1" cy="75.4" r="4.1" fill="none" stroke="#2ade2a" stroke-width="1.6"/>
<path d="M234.9,55.5 V57.7 M230.9,55.5 H238.9 M234.9,67.5 V69.3 M230.9,69.3 H238.9 " stroke="#2ade2a" stroke-width="1.5" fill="none"/>
<circle cx="234.9" cy="62.6" r="4.1" fill="none" stroke="#2ade2a" stroke-width="1.6"/>
<path d="M301.7,100.5 V100.7 M297.7,100.5 H305.7 M301.7,110.5 V110.8 M297.7,110.8 H305.7 " stroke="#2ade2a" stroke-width="1.5" fill="none"/>
<circle cx="301.7" cy="105.6" r="4.1" fill="none" stroke="#2ade2a" stroke-width="1.6"/>
<path d="M368.5,188.5 V190.6 M364.5,188.5 H372.5 M368.5,200.4 V203.3 M364.5,203.3 H372.5 " stroke="#2ade2a" stroke-width="1.5" fill="none"/>
<circle cx="368.5" cy="195.5" r="4.1" fill="none" stroke="#2ade2a" stroke-width="1.6"/>
<path d="M435.3,241.2 V244.9 M431.3,241.2 H439.3 M435.3,254.7 V261.1 M431.3,261.1 H439.3 " stroke="#2ade2a" stroke-width="1.5" fill="none"/>
<circle cx="435.3" cy="249.8" r="4.1" fill="none" stroke="#2ade2a" stroke-width="1.6"/>
<path d="M502.1,275.0 V281.2 M498.1,275.0 H506.1 M502.1,291.0 V296.0 M498.1,296.0 H506.1 " stroke="#2ade2a" stroke-width="1.5" fill="none"/>
<circle cx="502.1" cy="286.1" r="4.1" fill="none" stroke="#2ade2a" stroke-width="1.6"/>

<circle cx="168.1" cy="136.4" r="4.6" fill="#f5821e"/>
<path d="M234.9,290.6 V291.9 M230.9,290.6 H238.9 M234.9,301.1 V302.0 M230.9,302.0 H238.9 " stroke="#f5821e" stroke-width="1.5" fill="none"/>
<circle cx="234.9" cy="296.5" r="4.6" fill="#f5821e"/>

<circle cx="301.7" cy="350.3" r="4.6" fill="#f5821e"/>

<circle cx="368.5" cy="350.3" r="4.6" fill="#f5821e"/>

<circle cx="435.3" cy="350.3" r="4.6" fill="#f5821e"/>

<circle cx="502.1" cy="350.3" r="4.6" fill="#f5821e"/>
<path d="M168.1,208.7 V209.2 M164.1,208.7 H172.1 " stroke="#000" stroke-width="1.5" fill="none"/>
<path d="M168.1,208.4 L172.6,216.4 L163.6,216.4 Z" fill="#000"/>

<path d="M234.9,271.6 L239.4,279.6 L230.4,279.6 Z" fill="#000"/>
<path d="M301.7,315.2 V316.2 M297.7,315.2 H305.7 " stroke="#000" stroke-width="1.5" fill="none"/>
<path d="M301.7,315.4 L306.2,323.4 L297.2,323.4 Z" fill="#000"/>

<path d="M368.5,338.7 L373.0,346.7 L364.0,346.7 Z" fill="#000"/>

<path d="M435.3,338.6 L439.8,346.6 L430.8,346.6 Z" fill="#000"/>

<path d="M502.1,338.6 L506.6,346.6 L497.6,346.6 Z" fill="#000"/>
<path d="M168.1,222.3 V224.0 M164.1,222.3 H172.1 M168.1,232.0 V233.2 M164.1,233.2 H172.1 " stroke="#1414f0" stroke-width="1.5" fill="none"/>
<path d="M164.4,224.3 L171.8,231.7 M171.8,224.3 L164.4,231.7" stroke="#1414f0" stroke-width="3.3" fill="none"/>
<path d="M234.9,243.5 V251.5 M230.9,243.5 H238.9 M234.9,259.5 V265.8 M230.9,265.8 H238.9 " stroke="#1414f0" stroke-width="1.5" fill="none"/>
<path d="M231.2,251.8 L238.6,259.2 M238.6,251.8 L231.2,259.2" stroke="#1414f0" stroke-width="3.3" fill="none"/>
<path d="M301.7,266.4 V269.4 M297.7,266.4 H305.7 M301.7,277.4 V280.2 M297.7,280.2 H305.7 " stroke="#1414f0" stroke-width="1.5" fill="none"/>
<path d="M298.0,269.7 L305.4,277.1 M305.4,269.7 L298.0,277.1" stroke="#1414f0" stroke-width="3.3" fill="none"/>
<path d="M368.5,263.6 V266.5 M364.5,263.6 H372.5 M368.5,274.5 V278.4 M364.5,278.4 H372.5 " stroke="#1414f0" stroke-width="1.5" fill="none"/>
<path d="M364.8,266.8 L372.2,274.2 M372.2,266.8 L364.8,274.2" stroke="#1414f0" stroke-width="3.3" fill="none"/>
<path d="M435.3,271.7 V275.6 M431.3,271.7 H439.3 M435.3,283.6 V286.8 M431.3,286.8 H439.3 " stroke="#1414f0" stroke-width="1.5" fill="none"/>
<path d="M431.6,275.9 L439.0,283.3 M439.0,275.9 L431.6,283.3" stroke="#1414f0" stroke-width="3.3" fill="none"/>
<path d="M502.1,287.1 V291.6 M498.1,287.1 H506.1 M502.1,299.6 V303.6 M498.1,303.6 H506.1 " stroke="#1414f0" stroke-width="1.5" fill="none"/>
<path d="M498.4,291.9 L505.8,299.3 M505.8,291.9 L498.4,299.3" stroke="#1414f0" stroke-width="3.3" fill="none"/>
<path d="M168.1,77.4 V80.4 M164.1,77.4 H172.1 M168.1,90.2 V93.7 M164.1,93.7 H172.1 " stroke="#f01e1e" stroke-width="1.5" fill="none"/>
<path fill-rule="evenodd" fill="#f01e1e" d="M163.21,85.30 A4.9,4.9 0 1 1 173.01,85.30 A4.9,4.9 0 1 1 163.21,85.30 Z M165.01,86.00 L171.21,86.00 A3.1,3.1 0 0 1 165.01,86.00 Z"/>
<path d="M234.9,111.3 V111.8 M230.9,111.3 H238.9 M234.9,121.6 V122.4 M230.9,122.4 H238.9 " stroke="#f01e1e" stroke-width="1.5" fill="none"/>
<path fill-rule="evenodd" fill="#f01e1e" d="M230.01,116.70 A4.9,4.9 0 1 1 239.81,116.70 A4.9,4.9 0 1 1 230.01,116.70 Z M231.81,117.40 L238.01,117.40 A3.1,3.1 0 0 1 231.81,117.40 Z"/>
<path d="M301.7,120.2 V120.3 M297.7,120.3 H305.7 " stroke="#f01e1e" stroke-width="1.5" fill="none"/>
<path fill-rule="evenodd" fill="#f01e1e" d="M296.81,115.30 A4.9,4.9 0 1 1 306.61,115.30 A4.9,4.9 0 1 1 296.81,115.30 Z M298.61,116.00 L304.81,116.00 A3.1,3.1 0 0 1 298.61,116.00 Z"/>
<path d="M368.5,108.9 V116.0 M364.5,108.9 H372.5 M368.5,125.8 V132.9 M364.5,132.9 H372.5 " stroke="#f01e1e" stroke-width="1.5" fill="none"/>
<path fill-rule="evenodd" fill="#f01e1e" d="M363.61,120.90 A4.9,4.9 0 1 1 373.41,120.90 A4.9,4.9 0 1 1 363.61,120.90 Z M365.41,121.60 L371.61,121.60 A3.1,3.1 0 0 1 365.41,121.60 Z"/>
<path d="M435.3,196.3 V213.6 M431.3,196.3 H439.3 M435.3,223.4 V239.0 M431.3,239.0 H439.3 " stroke="#f01e1e" stroke-width="1.5" fill="none"/>
<path fill-rule="evenodd" fill="#f01e1e" d="M430.40,218.50 A4.9,4.9 0 1 1 440.20,218.50 A4.9,4.9 0 1 1 430.40,218.50 Z M432.20,219.20 L438.40,219.20 A3.1,3.1 0 0 1 432.20,219.20 Z"/>

<path fill-rule="evenodd" fill="#f01e1e" d="M497.20,350.30 A4.9,4.9 0 1 1 507.00,350.30 A4.9,4.9 0 1 1 497.20,350.30 Z M499.00,351.00 L505.20,351.00 A3.1,3.1 0 0 1 499.00,351.00 Z"/>
<path d="M74.8,74.1 V78.6 M70.8,78.6 H78.8 " stroke="#000" stroke-width="1.5" fill="none"/>
<path fill-rule="evenodd" fill="#c3c81c" d="M69.90,74.10 A4.9,4.9 0 1 1 79.70,74.10 A4.9,4.9 0 1 1 69.90,74.10 Z M71.70,74.80 L77.90,74.80 A3.1,3.1 0 0 1 71.70,74.80 Z"/>
<circle cx="74.8" cy="74.1" r="4.1" fill="none" stroke="#2ade2a" stroke-width="1.6"/>
<circle cx="74.8" cy="74.1" r="4.6" fill="#f5821e"/>
<path d="M74.8,70.4 L79.3,78.4 L70.3,78.4 Z" fill="#000"/>
<path d="M71.1,63.7 L78.5,71.1 M78.5,63.7 L71.1,71.1" stroke="#1414f0" stroke-width="3.3" fill="none"/>
<path fill-rule="evenodd" fill="#f01e1e" d="M69.90,74.10 A4.9,4.9 0 1 1 79.70,74.10 A4.9,4.9 0 1 1 69.90,74.10 Z M71.70,74.80 L77.90,74.80 A3.1,3.1 0 0 1 71.70,74.80 Z"/>
<rect x="543" y="18" width="206" height="153.5" fill="#2a2a2a"/>
<rect x="537.5" y="12.5" width="205.7" height="152.8" fill="#fff" stroke="#707070" stroke-width="1"/>
<path fill-rule="evenodd" fill="#c3c81c" d="M551.20,29.20 A4.9,4.9 0 1 1 561.00,29.20 A4.9,4.9 0 1 1 551.20,29.20 Z M553.00,29.90 L559.20,29.90 A3.1,3.1 0 0 1 553.00,29.90 Z"/>
<text x="579.5" y="34.5" font-family="Liberation Serif" font-size="14.4" fill="#000"><tspan font-weight="bold">3,6-PIRAMICAR</tspan> pH 7.0</text>
<circle cx="556.1" cy="53.0" r="4.1" fill="none" stroke="#2ade2a" stroke-width="1.6"/>
<text x="579.5" y="58.2" font-family="Liberation Serif" font-size="14.4" fill="#000"><tspan font-weight="bold">3,6-PIRAMICAR</tspan> pH 5.5</text>
<circle cx="556.1" cy="76.7" r="4.6" fill="#f5821e"/>
<text x="579.5" y="82.0" font-family="Liberation Serif" font-size="14.4" fill="#000"><tspan font-weight="bold">3,6-PIRAMICAR</tspan> pH 4.0</text>
<path d="M556.1,95.9 L560.6,103.9 L551.6,103.9 Z" fill="#000"/>
<text x="579.5" y="105.8" font-family="Liberation Serif" font-size="14.4" fill="#000"><tspan font-weight="bold">Fluconazole</tspan> pH 7.0</text>
<path d="M552.4,120.5 L559.8,127.9 M559.8,120.5 L552.4,127.9" stroke="#1414f0" stroke-width="3.3" fill="none"/>
<text x="579.5" y="129.5" font-family="Liberation Serif" font-size="14.4" fill="#000"><tspan font-weight="bold">Fluconazole</tspan> pH 5.5</text>
<path fill-rule="evenodd" fill="#f01e1e" d="M551.20,147.95 A4.9,4.9 0 1 1 561.00,147.95 A4.9,4.9 0 1 1 551.20,147.95 Z M553.00,148.65 L559.20,148.65 A3.1,3.1 0 0 1 553.00,148.65 Z"/>
<text x="579.5" y="153.2" font-family="Liberation Serif" font-size="14.4" fill="#000"><tspan font-weight="bold">Fluconazole</tspan> pH 4.0</text>
</svg>
</body></html>
